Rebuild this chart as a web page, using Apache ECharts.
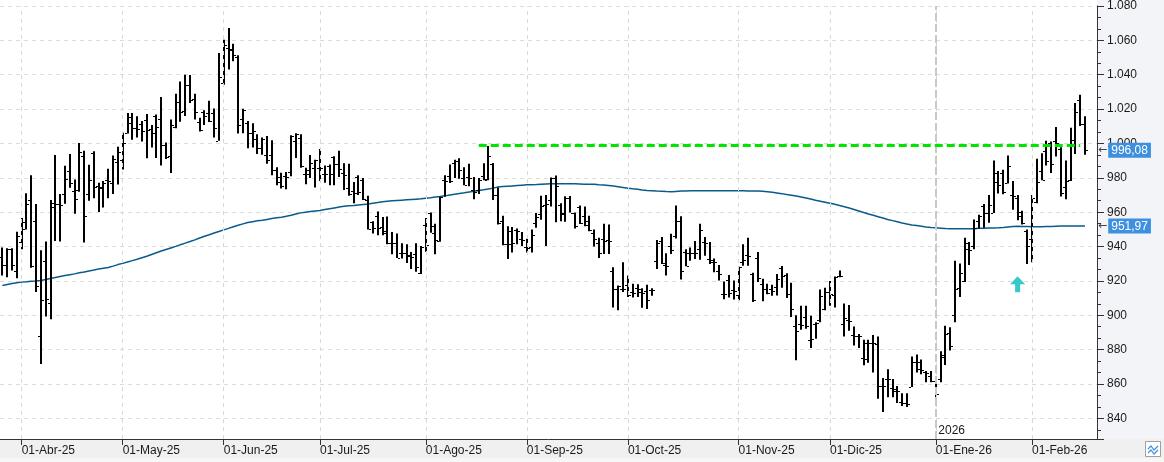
<!DOCTYPE html>
<html lang="es">
<head>
<meta charset="UTF-8">
<title>Gráfico</title>
<style>
html, body { margin: 0; padding: 0; background: #fff; }
#main { width: 1164px; height: 462px; }
</style>
</head>
<body>
<div id="main"></div>
<script src="https://cdn.jsdelivr.net/npm/echarts@6/dist/echarts.min.js"></script>
<script>
// meses visibles y sesiones por mes (el primero es parcial)
var monthNames = ['Mar-25', 'Abr-25', 'May-25', 'Jun-25', 'Jul-25', 'Ago-25', 'Sep-25', 'Oct-25', 'Nov-25', 'Dic-25', 'Ene-26', 'Feb-26'];
var monthBars = [4, 21, 21, 20, 22, 21, 21, 23, 19, 22, 20, 12];

var opens = [
  933.7, 929.5, 938.8, 925.5, 942.7, 950.5, 967.3, 954.9, 887.8, 931.8,
  907.3, 965.6, 964.7, 970.6, 983.8, 972.3, 972.9, 992.9, 970.4, 994.3,
  975.3, 973.8, 978.6, 977.1, 989.5, 990.5, 1006.2, 1015.3, 1009.2, 1011.1,
  1013.4, 1008.3, 1015.9, 1014.0, 999.1, 992.6, 1009.8, 1024.0, 1019.0, 1034.0,
  1025.9, 1012.7, 1018.4, 1017.5, 1017.5, 1001.6, 1035.0, 1055.7, 1055.2, 1050.2,
  1014.0, 1012.1, 1006.0, 1002.5, 997.3, 993.0, 993.3, 984.3, 980.5, 980.9,
  983.4, 1001.5, 1003.1, 982.4, 982.4, 985.9, 985.9, 982.0, 986.6, 992.4,
  988.2, 982.8, 973.8, 972.5, 980.5, 979.0, 967.1, 954.3, 957.5, 951.4,
  948.9, 942.2, 942.2, 936.5, 936.5, 934.6, 935.5, 924.6, 952.8, 959.4,
  948.0, 943.2, 978.6, 981.0, 988.5, 989.7, 980.1, 980.5, 972.9, 972.9,
  980.9, 979.5, 988.0, 970.0, 954.7, 941.3, 948.9, 949.5, 944.2, 939.9,
  940.0, 953.7, 959.1, 964.2, 967.0, 980.0, 964.2, 959.5, 968.0, 959.4,
  962.9, 957.9, 954.7, 948.0, 942.2, 944.5, 944.0, 925.6, 915.5, 915.5,
  917.4, 913.6, 915.8, 913.6, 913.9, 914.9, 931.7, 943.2, 929.0, 940.3,
  946.1, 954.7, 936.9, 936.5, 936.5, 938.8, 942.6, 932.7, 931.2, 926.0,
  912.6, 920.3, 914.5, 912.0, 931.2, 935.0, 924.0, 933.6, 918.3, 915.5,
  915.5, 916.4, 927.3, 923.5, 912.6, 894.0, 894.8, 898.8, 885.8, 894.8,
  897.0, 903.4, 913.6, 912.0, 922.8, 895.0, 897.3, 888.7, 888.0, 874.9,
  884.0, 883.9, 883.0, 859.0, 862.9, 857.7, 856.2, 849.5, 849.1, 858.5,
  873.0, 868.6, 867.1, 864.8, 861.9, 863.0, 875.7, 889.7, 900.2, 915.9,
  919.7, 938.4, 940.4, 954.7, 963.7, 959.5, 959.5, 977.7, 982.8, 977.0,
  970.0, 968.0, 958.0, 949.0, 944.6, 966.0, 984.0, 995.8, 1000.0, 1001.2,
  996.8, 974.8, 978.6, 1002.0, 1025.1, 1011.5
];
var highs = [
  939.4, 939.0, 939.0, 948.6, 956.6, 971.0, 981.5, 964.7, 937.9, 942.9,
  967.1, 993.3, 970.6, 987.0, 993.9, 979.0, 1000.2, 995.8, 987.6, 995.4,
  977.1, 978.2, 985.3, 993.0, 998.1, 1006.3, 1017.8, 1017.8, 1015.9, 1013.0,
  1017.2, 1010.7, 1016.9, 1027.0, 1000.6, 1014.0, 1029.0, 1036.0, 1040.0, 1039.9,
  1029.0, 1015.0, 1019.4, 1024.9, 1020.4, 1052.7, 1060.3, 1067.2, 1058.0, 1051.3,
  1020.2, 1013.1, 1011.7, 1005.4, 1003.5, 1004.4, 1001.9, 986.2, 983.0, 983.4,
  1004.8, 1005.9, 1005.4, 985.9, 993.3, 990.5, 996.8, 987.2, 987.8, 992.6,
  995.8, 988.5, 988.2, 977.6, 981.5, 979.9, 969.6, 954.7, 960.4, 957.2,
  957.5, 948.4, 947.6, 941.9, 941.3, 936.9, 941.9, 940.3, 956.6, 959.8,
  953.3, 969.0, 981.5, 987.8, 990.5, 991.4, 986.2, 988.2, 980.5, 979.9,
  988.5, 998.5, 988.6, 974.3, 957.9, 951.8, 951.4, 950.5, 948.4, 944.5,
  949.9, 959.5, 969.6, 970.0, 980.2, 981.3, 965.2, 969.3, 969.4, 959.8,
  963.9, 963.3, 957.9, 949.9, 945.1, 953.2, 952.8, 927.9, 917.4, 930.8,
  923.1, 918.3, 918.0, 915.8, 917.8, 915.8, 943.8, 945.5, 936.1, 947.4,
  963.9, 957.6, 938.4, 939.4, 943.2, 953.2, 945.5, 942.6, 933.1, 929.2,
  919.7, 923.5, 920.3, 928.3, 941.3, 945.1, 924.7, 936.9, 921.2, 918.3,
  917.8, 924.0, 928.7, 924.5, 919.0, 900.0, 905.5, 905.5, 899.8, 896.0,
  915.0, 916.0, 920.0, 922.6, 926.0, 906.9, 906.0, 893.5, 889.1, 885.8,
  885.8, 888.5, 887.7, 863.5, 868.6, 862.9, 858.8, 854.6, 854.6, 876.0,
  877.2, 874.3, 867.6, 867.6, 862.9, 879.0, 893.9, 893.1, 931.8, 930.2,
  945.1, 942.7, 955.7, 958.5, 964.7, 970.0, 990.1, 984.0, 984.7, 993.0,
  978.2, 970.0, 960.8, 949.9, 970.0, 991.1, 994.3, 1001.6, 1001.2, 1009.6,
  997.8, 990.1, 1009.2, 1023.6, 1028.4, 1015.9
];
var lows = [
  923.2, 922.2, 926.0, 921.6, 938.5, 949.9, 927.6, 913.6, 871.6, 899.3,
  897.7, 943.3, 942.9, 964.9, 974.2, 959.1, 971.9, 942.3, 966.6, 968.1,
  960.1, 962.8, 968.1, 970.6, 976.1, 984.9, 1005.8, 1002.1, 1003.5, 1001.2,
  991.4, 997.7, 991.6, 987.2, 991.0, 982.8, 1008.8, 1012.7, 1016.0, 1023.6,
  1014.0, 1007.0, 1010.8, 1012.5, 1003.5, 1001.6, 1034.1, 1043.1, 1047.9, 1005.8,
  1006.0, 997.2, 997.7, 993.9, 993.5, 988.2, 981.5, 975.7, 973.8, 973.4,
  980.9, 991.6, 985.9, 976.3, 979.9, 974.4, 978.2, 977.1, 975.7, 975.7,
  980.5, 972.9, 969.6, 965.2, 970.0, 967.1, 949.9, 947.6, 946.6, 946.6,
  941.3, 935.5, 933.4, 933.1, 930.4, 926.9, 925.4, 924.1, 937.0, 948.0,
  935.5, 942.8, 969.0, 977.0, 979.9, 979.5, 975.7, 975.1, 967.5, 970.6,
  978.6, 978.6, 967.1, 952.8, 940.7, 932.7, 936.5, 941.3, 940.3, 936.5,
  936.5, 950.9, 955.6, 940.3, 963.3, 954.1, 954.7, 954.5, 959.8, 950.5,
  953.1, 951.8, 948.9, 940.0, 933.3, 935.6, 935.6, 904.6, 903.0, 913.6,
  910.7, 910.3, 910.7, 904.4, 903.6, 911.3, 927.0, 929.8, 923.1, 935.6,
  944.7, 920.8, 928.5, 931.7, 932.7, 932.3, 934.6, 929.8, 925.0, 920.3,
  909.3, 910.3, 909.2, 908.8, 928.9, 928.9, 907.8, 919.3, 908.2, 912.2,
  911.3, 911.5, 916.0, 910.0, 899.0, 873.8, 891.6, 892.1, 881.0, 886.4,
  896.0, 903.0, 905.5, 904.6, 922.2, 887.7, 891.0, 882.4, 881.0, 870.9,
  872.4, 866.7, 851.4, 843.7, 852.3, 852.3, 849.0, 847.2, 846.6, 858.3,
  866.7, 865.7, 861.0, 861.0, 852.3, 861.0, 871.1, 879.5, 896.0, 910.7,
  919.3, 929.3, 938.5, 950.5, 950.9, 953.8, 959.5, 970.9, 970.4, 976.7,
  961.4, 955.3, 952.8, 929.8, 930.8, 965.2, 978.6, 987.2, 982.8, 992.4,
  969.1, 967.5, 978.2, 993.9, 1010.2, 993.5
];
var closes = [
  929.5, 938.8, 929.5, 946.1, 954.3, 964.7, 928.5, 916.9, 908.8, 909.4,
  963.3, 964.7, 964.3, 979.4, 976.7, 967.9, 994.9, 957.6, 978.6, 974.8,
  974.6, 977.1, 978.2, 991.2, 994.9, 1000.0, 1012.1, 1009.2, 1008.3, 1007.3,
  1007.9, 1006.0, 1009.8, 999.1, 992.4, 1010.5, 1024.0, 1018.4, 1034.0, 1025.5,
  1018.4, 1008.1, 1015.9, 1013.1, 1008.9, 1038.5, 1057.1, 1054.2, 1051.3, 1010.6,
  1019.4, 1006.0, 1007.3, 997.3, 1002.5, 990.5, 984.7, 977.6, 975.1, 980.5,
  1004.4, 1005.4, 986.6, 984.3, 988.5, 990.1, 985.5, 982.4, 982.0, 988.2,
  985.3, 981.8, 970.4, 971.3, 971.9, 967.5, 950.5, 950.9, 950.9, 948.0,
  941.9, 941.9, 933.6, 936.1, 935.2, 934.2, 927.9, 939.9, 940.7, 952.2,
  944.0, 969.0, 978.2, 978.2, 989.7, 984.3, 975.7, 980.1, 971.9, 979.0,
  979.0, 992.5, 970.0, 953.5, 941.3, 941.7, 941.9, 948.9, 943.8, 939.4,
  947.0, 957.2, 963.7, 964.6, 980.0, 975.0, 959.1, 968.0, 959.8, 951.8,
  953.7, 952.8, 949.5, 944.2, 936.0, 943.2, 943.5, 915.5, 916.8, 915.1,
  912.0, 913.2, 915.5, 913.2, 908.8, 914.5, 942.0, 930.2, 928.5, 938.0,
  954.7, 925.6, 928.9, 936.1, 936.1, 949.5, 942.2, 932.3, 930.8, 924.0,
  912.2, 913.2, 913.9, 928.0, 932.0, 934.6, 909.0, 921.8, 915.5, 913.2,
  913.9, 921.0, 923.1, 912.6, 903.5, 890.6, 894.4, 894.0, 886.2, 895.4,
  911.0, 913.6, 912.2, 922.2, 922.8, 898.3, 896.7, 887.7, 887.7, 874.3,
  883.7, 883.7, 859.0, 859.0, 862.9, 857.1, 855.8, 849.1, 848.5, 873.0,
  872.8, 868.2, 866.7, 861.9, 854.3, 877.0, 889.3, 882.4, 915.1, 924.7,
  942.3, 938.1, 950.9, 957.6, 959.5, 964.3, 982.8, 976.1, 971.9, 986.7,
  969.6, 960.0, 953.6, 940.4, 968.5, 977.7, 979.0, 989.7, 988.2, 1000.0,
  971.4, 978.2, 999.1, 1018.4, 1011.5, 996.08
];
// media móvil
var ma = [
  917.3, 917.9, 918.5, 918.9, 919.3, 919.5, 919.8, 920.0, 920.3, 920.8,
  921.4, 922.0, 922.6, 923.1, 923.6, 924.1, 924.7, 925.2, 925.8, 926.3,
  926.9, 927.4, 927.8, 928.6, 929.5, 930.2, 931.0, 931.8, 932.6, 933.5,
  934.4, 935.4, 936.4, 937.4, 938.3, 939.2, 940.1, 941.1, 942.0, 942.9,
  943.9, 945.0, 946.0, 946.9, 947.9, 948.8, 949.7, 950.6, 951.5, 952.4,
  953.2, 954.0, 954.5, 955.0, 955.3, 955.8, 956.3, 956.7, 957.1, 957.6,
  958.2, 958.9, 959.6, 960.0, 960.4, 960.7, 961.0, 961.5, 962.0, 962.5,
  963.0, 963.4, 963.7, 963.9, 964.2, 964.5, 964.8, 965.2, 965.6, 966.1,
  966.4, 966.6, 966.8, 967.0, 967.2, 967.4, 967.6, 967.8, 968.1, 968.4,
  968.8, 969.1, 969.5, 970.0, 970.5, 970.9, 971.3, 971.8, 972.2, 972.6,
  973.0, 973.5, 974.0, 974.6, 974.9, 975.1, 975.3, 975.5, 975.7, 975.9,
  976.0, 976.1, 976.3, 976.4, 976.5, 976.6, 976.6, 976.6, 976.6, 976.5,
  976.4, 976.3, 976.3, 976.2, 975.9, 975.8, 975.6, 975.2, 974.8, 974.4,
  974.0, 973.6, 973.3, 972.9, 972.6, 972.5, 972.3, 972.2, 972.0, 971.9,
  972.1, 972.3, 972.4, 972.5, 972.5, 972.5, 972.5, 972.5, 972.5, 972.5,
  972.5, 972.5, 972.5, 972.5, 972.5, 972.4, 972.4, 972.3, 972.2, 971.9,
  971.6, 971.2, 970.8, 970.3, 969.9, 969.4, 968.9, 968.3, 967.7, 967.0,
  966.4, 965.8, 965.2, 964.6, 963.9, 963.2, 962.4, 961.6, 960.7, 959.8,
  959.0, 958.2, 957.4, 956.6, 955.8, 955.1, 954.4, 953.7, 953.1, 952.6,
  952.2, 951.8, 951.4, 951.1, 950.9, 950.7, 950.5, 950.4, 950.3, 950.3,
  950.3, 950.3, 950.4, 950.6, 950.7, 950.8, 950.8, 950.9, 951.1, 951.4,
  951.7, 951.8, 951.7, 951.6, 951.5, 951.5, 951.5, 951.6, 951.7, 951.8,
  951.9, 951.9, 951.9, 951.9, 952.0, 951.97
];
var resistance = 999;          // linea verde
var resistanceFrom = 99, resistanceTo = 224;
var yearStartIdx = 194;        // primera sesion de 2026
var signalIdx = 211, signalValue = 918;

// categorias: una por sesion + 2 huecos a la derecha
var categories = [];
monthNames.forEach(function (m, k) {
  for (var d = 0; d < monthBars[k]; d++) {
    categories.push(d === 0 && k > 0 ? '01-' + m : m + '/' + d);
  }
});
categories.push('pad/1', 'pad/2');

function isMonthStart(idx, val) {
  return typeof val === 'string' && val.indexOf('01-') === 0;
}
var monthStarts = [];
categories.forEach(function (c, i) { if (isMonthStart(i, c)) monthStarts.push(c); });

var ohlc = opens.map(function (o, i) {
  return [i, o, highs[i], lows[i], closes[i]];
});
var last = closes.length - 1;

function fmtComma(v) { return v.toFixed(2).replace('.', ','); }
function fmtAxis(v) {
  if (v >= 1000) {
    var r = String(Math.round(v - 1000));
    while (r.length < 3) r = '0' + r;
    return '1.' + r;
  }
  return String(v);
}

function renderOHLC(params, api) {
  var idx = api.value(0);
  var top = api.coord([idx, api.value(2)]);
  var bot = api.coord([idx, api.value(3)]);
  var yo = Math.round(api.coord([idx, api.value(1)])[1]) + 0.5;
  var yc = Math.round(api.coord([idx, api.value(4)])[1]) + 0.5;
  var x = Math.round(top[0]);
  var tick = { stroke: '#000', lineWidth: 1 };
  return {
    type: 'group',
    children: [
      { type: 'line', shape: { x1: x, y1: top[1], x2: x, y2: bot[1] }, style: { stroke: '#000', lineWidth: 2 } },
      { type: 'line', shape: { x1: x - 3, y1: yo, x2: x - 1, y2: yo }, style: tick },
      { type: 'line', shape: { x1: x + 1, y1: yc, x2: x + 3, y2: yc }, style: tick }
    ]
  };
}

var tagRich = {
  a: { color: '#444', fontSize: 11, padding: [0, 1, 0, 0], fontFamily: 'DejaVu Sans' },
  b: { color: '#fff', backgroundColor: '#3d8fe0', fontSize: 12, padding: [2, 3, 1, 3], fontFamily: 'Liberation Sans' }
};
var hiddenLine = { color: 'rgba(0,0,0,0)', width: 1 };

var gridLines = monthStarts.map(function (c) {
  return { xAxis: c, lineStyle: { color: '#d9d9d9', type: [4, 4], width: 1 }, label: { show: false } };
});
gridLines.push({ xAxis: categories[yearStartIdx], lineStyle: { color: '#c8c8c8', type: [8, 3], width: 2 }, label: { show: false } });

var myChart = echarts.init(document.getElementById('main'));
var option = {
  animation: false,
  backgroundColor: '#fff',
  textStyle: { fontFamily: 'Liberation Sans' },
  graphic: [
    { type: 'rect', z: -10, shape: { x: 1097, y: 0, width: 67, height: 439 }, style: { fill: '#f3f4f7' } },
    { type: 'rect', z: -10, shape: { x: 0, y: 439, width: 1164, height: 19 }, style: { fill: '#f0f0f0' } },
    { type: 'rect', z: -10, shape: { x: 0, y: 458, width: 1164, height: 4 }, style: { fill: '#f7f7f7' } },
    { type: 'rect', z: 10, shape: { x: 1145.5, y: 441.5, width: 15, height: 15 }, style: { fill: '#fff', stroke: '#a0a0a0', lineWidth: 1 } },
    { type: 'polyline', z: 11, shape: { points: [[1148, 449], [1151, 446], [1154, 450], [1158, 446]] }, style: { stroke: '#3d8fe0', fill: null, lineWidth: 1.2 } },
    { type: 'polyline', z: 11, shape: { points: [[1148, 453], [1151, 450], [1154, 454], [1158, 450]] }, style: { stroke: '#3d8fe0', fill: null, lineWidth: 1.2 } }
  ],
  grid: { left: 0, right: 67, top: 0, bottom: 23 },
  xAxis: {
    type: 'category',
    data: categories,
    boundaryGap: true,
    axisLine: { lineStyle: { color: '#333', width: 1 } },
    axisTick: { show: true, alignWithLabel: true, interval: isMonthStart, length: 6, lineStyle: { color: '#333' } },
    axisLabel: {
      interval: isMonthStart,
      align: 'left',
      margin: 6,
      color: '#1a1a1a',
      fontSize: 12,
      fontFamily: 'Liberation Sans'
    },
    splitLine: { show: false }
  },
  yAxis: {
    type: 'value',
    position: 'right',
    min: 828,
    max: 1080,
    splitNumber: 12,
    minInterval: 20,
    maxInterval: 20,
    scale: true,
    axisLine: { show: true, lineStyle: { color: '#333' } },
    axisTick: { show: true, length: 7, lineStyle: { color: '#333' } },
    minorTick: { show: true, splitNumber: 3, length: 4, lineStyle: { color: '#333' } },
    axisLabel: {
      margin: 10,
      color: '#1a1a1a',
      fontSize: 12,
      fontFamily: 'Liberation Sans',
      showMinLabel: false,
      formatter: fmtAxis
    },
    splitLine: { show: true, lineStyle: { color: '#dcdcdc', type: [4, 4] } }
  },
  series: [
    {
      name: 'grid',
      type: 'line',
      data: [],
      z: 1,
      silent: true,
      markLine: { silent: true, symbol: ['none', 'none'], animation: false, data: gridLines }
    },
    {
      name: 'MA',
      type: 'line',
      data: ma,
      z: 2,
      symbol: 'none',
      silent: true,
      lineStyle: { color: '#0a5a8c', width: 1.5 }
    },
    {
      name: 'OHLC',
      type: 'custom',
      z: 3,
      silent: true,
      renderItem: renderOHLC,
      encode: { x: 0, y: [1, 2, 3, 4] },
      data: ohlc
    },
    {
      name: 'marcas',
      type: 'line',
      data: [],
      z: 5,
      silent: true,
      markLine: {
        silent: true,
        symbol: ['none', 'none'],
        animation: false,
        data: [
          [
            { coord: [categories[resistanceFrom], resistance], lineStyle: { color: '#00e400', width: 3, type: [8, 4] }, label: { show: false } },
            { coord: [categories[resistanceTo], resistance] }
          ],
          {
            yAxis: closes[last],
            lineStyle: hiddenLine,
            label: { show: true, position: 'end', distance: 1, formatter: '{a|←}{b|' + fmtComma(closes[last]) + '}', rich: tagRich }
          },
          {
            yAxis: ma[last],
            lineStyle: hiddenLine,
            label: { show: true, position: 'end', distance: 1, formatter: '{a|←}{b|' + fmtComma(ma[last]) + '}', rich: tagRich }
          }
        ]
      },
      markPoint: {
        silent: true,
        animation: false,
        data: [
          {
            coord: [categories[signalIdx], signalValue],
            symbol: 'path://M7.5,0 L15,8 L10,8 L10,16 L5,16 L5,8 L0,8 Z',
            symbolSize: [15, 16],
            itemStyle: { color: '#36c9c9' },
            label: { show: false }
          },
          {
            coord: [categories[yearStartIdx], 833],
            symbol: 'circle',
            symbolSize: 1,
            itemStyle: { color: 'rgba(0,0,0,0)' },
            label: { show: true, position: 'right', distance: 2, formatter: '2026', color: '#1a1a1a', fontSize: 12, fontFamily: 'Liberation Sans' }
          }
        ]
      }
    }
  ]
};
myChart.setOption(option);
</script>
</body>
</html>
